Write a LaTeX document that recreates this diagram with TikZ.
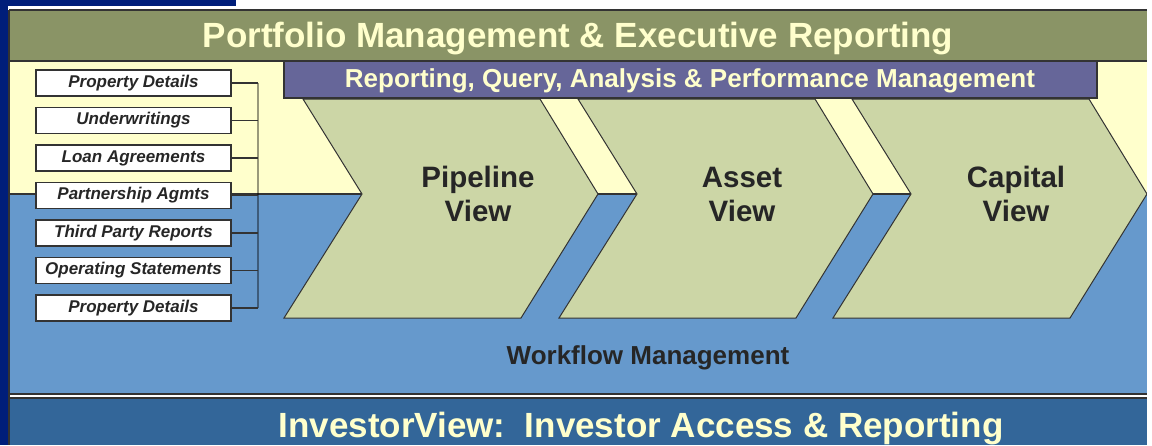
\documentclass[tikz,border=0pt]{standalone}
\usepackage{fontspec}
\setmainfont{Liberation Sans}
\usetikzlibrary{positioning}

\definecolor{navy}{HTML}{001E7A}
\definecolor{olivebar}{HTML}{8A9466}
\definecolor{creamfill}{HTML}{FFFFCC}
\definecolor{purplebar}{HTML}{666699}
\definecolor{chevgreen}{HTML}{CCD6A6}
\definecolor{flowblue}{HTML}{6699CC}
\definecolor{investblue}{HTML}{336699}
\definecolor{edgegray}{HTML}{333333}

\tikzset{
  docbox/.style={draw=edgegray,line width=1.2pt,fill=white,minimum width=195pt,minimum height=26pt,inner sep=0pt,text=black!85,font=\fontsize{17}{20}\selectfont\bfseries\itshape},
  chevron/.style={fill=chevgreen,draw=edgegray,line width=1pt},
  bandtext/.style={anchor=base,text=creamfill,font=\fontsize{35}{40}\selectfont\bfseries},
  viewtext/.style={align=center,text=black!85,font=\fontsize{29.5}{34}\selectfont\bfseries},
  stub/.style={draw=edgegray,line width=1.2pt},
  bus/.style={draw=black,draw opacity=0.4,line width=2pt}
}

\begin{document}
\begin{tikzpicture}[x=1pt,y=-1pt]
\useasboundingbox (0,0) rectangle (1152,445);
\fill[white] (0,0) rectangle (1152,445);
\fill[navy] (0,0) rectangle (8,445);
\fill[navy] (0,0) rectangle (236,6);

% bands
\fill[olivebar] (9,10) rectangle (1147,61);
\fill[creamfill] (9,61) rectangle (1147,194);
\fill[flowblue] (9,194) rectangle (1147,394);
\fill[investblue] (9,398) rectangle (1147,445);
\draw[edgegray,line width=1.5pt] (9,10) -- (1147,10) (9,61) -- (1147,61);
\draw[edgegray,line width=1.5pt] (9,394) -- (1147,394) (9,398) -- (1147,398);
\draw[edgegray,line width=2pt] (9,194) -- (1147,194);
\draw[edgegray,line width=1.5pt] (9,10) -- (9,445);

% source documents
\coordinate (busTop) at (258,83);
\coordinate (busBot) at (258,308);
\draw[bus] (busTop) -- (busBot);
\foreach \t [count=\n] in {Property Details,Underwritings,Loan Agreements,Partnership Agmts,Third Party Reports,Operating Statements,Property Details}
  \node[docbox] (D\n) at (133.5,{83+37.5*(\n-1)}) {\t};
\foreach \n in {1,...,7}
  \draw[stub] (D\n.east) -- (D\n.east -| busTop);

% views
\foreach \x [count=\n] in {303,578,852}
  \draw[chevron] (\x,99) -- ++(237,0) -- ++(58,95) -- ++(-77,124) -- ++(-237,0) -- ++(78,-124) -- cycle;
\foreach \t/\x/\nm in {Pipeline/478/pipe,Asset/742/asset,Capital/1016/capital}
  \node[viewtext] (V\nm) at (\x,194) {\t\\View};

\fill[white] (1147,0) rectangle (1152,445);
\draw[fill=purplebar,draw=edgegray,line width=1.5pt] (284,61) rectangle (1097,98);

% labels
\node[bandtext] (header) at (578,47) {Portfolio Management \& Executive Reporting};
\node[bandtext,font=\fontsize{26}{30}\selectfont\bfseries] (query) at (690,87) {Reporting, Query, Analysis \& Performance Management};
\node[anchor=base,text=black!85,font=\fontsize{26}{30}\selectfont\bfseries] (workflow) at (648,364) {Workflow Management};
\node[bandtext] (investor) at (641,437) {InvestorView:\ \ Investor Access \& Reporting};
\end{tikzpicture}
\end{document}
